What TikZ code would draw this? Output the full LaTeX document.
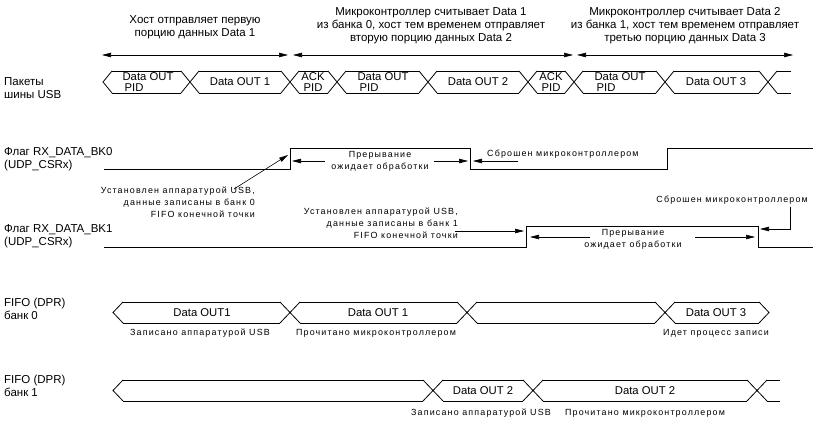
\documentclass[tikz,border=0pt]{standalone}
\usepackage{fontspec}
\setmainfont{Liberation Sans}
\newfontfamily\notefont[LetterSpace=13]{Liberation Sans}
\usetikzlibrary{arrows.meta}
\tikzset{
  sig/.style={line width=0.8pt},
  arr/.style={line width=0.6pt,-{Triangle[length=9pt,width=4.5pt]}},
  twoarr/.style={line width=0.6pt,{Triangle[length=9pt,width=4.5pt]}-{Triangle[length=9pt,width=4.5pt]}},
  txt/.style={inner sep=0pt,font=\fontsize{11.5}{13}\selectfont},
  pkt/.style={inner sep=0pt,font=\fontsize{11.3}{11.5}\selectfont},
  note/.style={inner sep=0pt,font=\notefont\fontsize{8.9}{12}\selectfont}
}
\begin{document}
\begin{tikzpicture}[x=1pt,y=-1pt]
\useasboundingbox (0,0) rectangle (813,425);

\node[txt,align=center] (t1) at (195,27) {Хост отправляет первую\\порцию данных Data 1};
\node[txt,align=center] (t2) at (431,26) {Микроконтроллер считывает Data 1\\из банка 0, хост тем временем отправляет\\вторую порцию данных Data 2};
\node[txt,align=center] (t3) at (685,26) {Микроконтроллер считывает Data 2\\из банка 1, хост тем временем отправляет\\третью порцию данных Data 3};
\coordinate (a1l) at (102,55); \coordinate (a1r) at (288,55);
\coordinate (a2l) at (293,55); \coordinate (a2r) at (573,55);
\coordinate (a3l) at (577,55); \coordinate (a3r) at (793,55);
\draw[twoarr] (a1l) -- (a1r);
\draw[twoarr] (a2l) -- (a2r);
\draw[twoarr] (a3l) -- (a3r);

\node[txt,anchor=west,align=left] (lusb) at (4,88) {Пакеты\\шины USB};
\node[txt,anchor=west,align=left] (lbk0) at (4,159) {Флаг RX\_DATA\_BK0\\(UDP\_CSRx)};
\node[txt,anchor=west,align=left] (lbk1) at (4,236.5) {Флаг RX\_DATA\_BK1\\(UDP\_CSRx)};
\node[txt,anchor=west,align=left] (lff0) at (4,309) {FIFO (DPR)\\банк 0};
\node[txt,anchor=west,align=left] (lff1) at (4,386) {FIFO (DPR)\\банк 1};

% USB packets
\draw[sig] (112,71) -- (103,82) -- (112,93);
\foreach \c in {190,290,337,428,528,574,665,768}
  \draw[sig] (\c-9,71) -- (\c+9,93) (\c-9,93) -- (\c+9,71);
\foreach \a/\b in {103/190,190/290,290/337,337/428,428/528,528/574,574/665,665/768}
  \draw[sig] (\a+9,71) -- (\b-9,71) (\a+9,93) -- (\b-9,93);
\draw[sig] (777,71) -- (791,71) (777,93) -- (791,93);
\node[pkt,align=left] (p1) at (148,82) {Data OUT\\\hspace{2pt}PID};
\node[pkt] (p2) at (240,82) {Data OUT 1};
\node[pkt,align=center] (p3) at (313,82) {ACK\\PID};
\node[pkt,align=left] (p4) at (383,82) {Data OUT\\\hspace{2pt}PID};
\node[pkt] (p5) at (478,82) {Data OUT 2};
\node[pkt,align=center] (p6) at (551,82) {ACK\\PID};
\node[pkt,align=left] (p7) at (620,82) {Data OUT\\\hspace{2pt}PID};
\node[pkt] (p8) at (716,82) {Data OUT 3};

% RX_DATA_BK0
\draw[sig] (104,169) -- (290,169) -- (290,148) -- (470,148) -- (470,169) -- (667,169) -- (667,148) -- (813,148);
\node[note,anchor=north east,align=right] (set0) at (255,187) {Установлен аппаратурой USB,\\данные записаны в банк 0\\FIFO конечной точки};
\coordinate (set0a) at (234,189); \coordinate (rise0) at (288,155);
\draw[arr] (set0a) -- (rise0);
\node[note,align=center] (int0) at (380,161) {Прерывание\\ожидает обработки};
\coordinate (int0l) at (325,161); \coordinate (int0lt) at (292,161);
\coordinate (int0r) at (434,161); \coordinate (int0rt) at (468,161);
\draw[arr] (int0l) -- (int0lt);
\draw[arr] (int0r) -- (int0rt);
\node[note,anchor=west] (clr0) at (487,154) {Сброшен микроконтроллером};
\coordinate (clr0a) at (518,161); \coordinate (clr0t) at (473,161);
\draw[arr] (clr0a) -- (clr0t);

% RX_DATA_BK1
\draw[sig] (104,247) -- (526,247) -- (526,226) -- (758,226) -- (758,247) -- (813,247);
\node[note,anchor=north east,align=right] (set1) at (458,208) {Установлен аппаратурой USB,\\данные записаны в банк 1\\FIFO конечной точки};
\coordinate (set1a) at (455,231); \coordinate (rise1) at (524,231);
\draw[arr] (set1a) -- (rise1);
\node[note,align=center] (int1) at (633,239) {Прерывание\\ожидает обработки};
\coordinate (int1l) at (590,237); \coordinate (int1lt) at (530,237);
\coordinate (int1r) at (695,237); \coordinate (int1rt) at (755,237);
\draw[arr] (int1l) -- (int1lt);
\draw[arr] (int1r) -- (int1rt);
\node[note,anchor=east] (clr1) at (808,200) {Сброшен микроконтроллером};
\coordinate (clr1a) at (790,207); \coordinate (clr1t) at (760,229);
\draw[arr] (clr1a) |- (clr1t);

% FIFO bank 0
\draw[sig] (123,302) -- (113,312.5) -- (123,323);
\foreach \c in {290,467,665}
  \draw[sig] (\c-10,302) -- (\c+10,323) (\c-10,323) -- (\c+10,302);
\foreach \a/\b in {113/290,290/467,467/665,665/769}
  \draw[sig] (\a+10,302) -- (\b-10,302) (\a+10,323) -- (\b-10,323);
\draw[sig] (759,302) -- (769,312.5) -- (759,323);
\node[pkt] (f01) at (202,312.5) {Data OUT1};
\node[pkt] (f02) at (378,312.5) {Data OUT 1};
\node[pkt] (f03) at (716,312.5) {Data OUT 3};
\node[note] (w01) at (200,333) {Записано аппаратурой USB};
\node[note] (w02) at (376,333) {Прочитано микроконтроллером};
\node[note] (w03) at (716,333) {Идет процесс записи};

% FIFO bank 1
\draw[sig] (123,380) -- (113,390.5) -- (123,401);
\foreach \c in {433,533,757}
  \draw[sig] (\c-10,380) -- (\c+10,401) (\c-10,401) -- (\c+10,380);
\foreach \a/\b in {113/433,433/533,533/757}
  \draw[sig] (\a+10,380) -- (\b-10,380) (\a+10,401) -- (\b-10,401);
\draw[sig] (767,380) -- (780,380) (767,401) -- (780,401);
\node[pkt] (f11) at (483,390.5) {Data OUT 2};
\node[pkt] (f12) at (645,390.5) {Data OUT 2};
\node[note] (w11) at (481,413) {Записано аппаратурой USB};
\node[note] (w12) at (645,413) {Прочитано микроконтроллером};
\end{tikzpicture}
\end{document}
